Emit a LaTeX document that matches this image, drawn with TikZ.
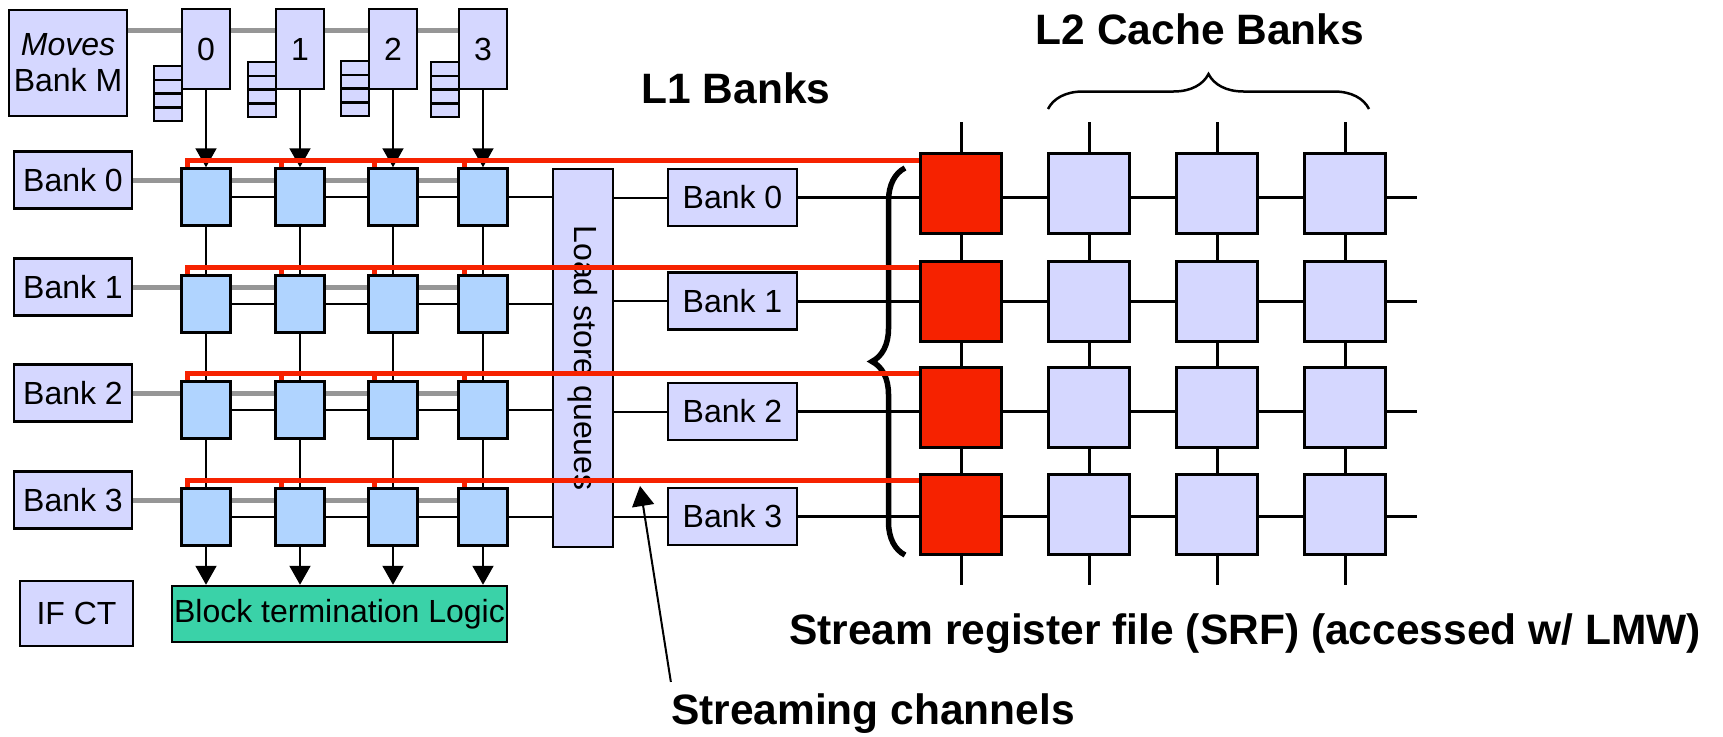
\documentclass[tikz,border=0pt]{standalone}
\usepackage{fontspec}
\setmainfont{Liberation Sans}
\usetikzlibrary{arrows.meta,backgrounds,decorations.pathreplacing}

\definecolor{lav}{RGB}{213,215,255}
\definecolor{peblue}{RGB}{176,212,255}
\definecolor{hotred}{RGB}{246,34,0}
\definecolor{tealbox}{RGB}{58,210,168}
\definecolor{busgray}{RGB}{150,150,150}
\newcommand{\boxfont}{\fontsize{32}{36}\selectfont}
\newcommand{\headfont}{\fontsize{42.5}{48}\selectfont\bfseries}

\begin{document}
\begin{tikzpicture}[
    x=1pt, y=-1pt,
    font=\boxfont,
    box/.style={draw, line width=2.5pt, fill=lav, inner sep=0pt, align=center},
    bank/.style={box, minimum width=118pt, minimum height=57pt},
    l1bank/.style={box, minimum width=129pt, minimum height=57pt},
    ifq/.style={box, minimum width=48pt, minimum height=80pt},
    cell/.style={box, minimum width=28pt, minimum height=13.75pt},
    pe/.style={box, fill=peblue, minimum width=49pt, minimum height=57pt},
    srf/.style={box, line width=3pt, minimum width=81pt, minimum height=80pt},
    srfhot/.style={srf, fill=hotred},
    heading/.style={font=\headfont, inner sep=0pt},
    wire/.style={line width=2pt},
    meshline/.style={line width=3pt},
    graybus/.style={line width=5pt, busgray},
    redbus/.style={line width=5.5pt, hotred},
    feed/.style={wire, -{Triangle[width=21pt, length=19pt]}},
    bigbrace/.style={decorate, decoration={brace, amplitude=33pt}, line width=5.5pt},
    smallbrace/.style={decorate, decoration={brace, amplitude=35pt}, line width=2.5pt}
  ]
    \useasboundingbox (0,0) rectangle (1723,736);

    % moves bank and operand queues
    \node[box, minimum width=118pt, minimum height=106pt] (moves) at (68,63) {\textit{Moves}\\Bank M};
    \foreach \x/\t [count=\j from 0] in {206/66,300/62,393/61,483/62} {
      \node[ifq] (q\j) at (\x,49) {\j};
      \foreach \k in {0,...,3}
        \node[cell] (s\j-\k) at (\x-38,\t+7+13.75*\k) {};
    }

    % register banks and execution array
    \foreach \y [count=\i from 0] in {197,304,410,517} {
      \node[bank] (bk\i) at (73,\y-17) {Bank \i};
      \foreach \x [count=\j from 0] in {206,300,393,483}
        \node[pe] (pe\i-\j) at (\x,\y) {};
    }
    \node[box, minimum width=60pt, minimum height=378pt, label={[rotate=-90]center:Load store queues}] (lsq) at (583,358) {};

    % L1 banks and SRF mesh
    \foreach \y/\ly [count=\i from 0] in {193.5/197.5,301/301,407/411.5,514/516.5} {
      \node[l1bank] (lb\i) at (732.5,\ly) {Bank \i};
      \node[srfhot] (srf\i-0) at (961,\y) {};
      \foreach \x [count=\j from 1] in {1089,1217,1345}
        \node[srf] (srf\i-\j) at (\x,\y) {};
    }

    \node[box, fill=tealbox, minimum width=335pt, minimum height=56pt] (btl) at (339.5,614) {Block termination Logic};
    \node[box, minimum width=113pt, minimum height=65pt] (ifct) at (76.5,613.5) {IF CT};

    \node[heading] (l1lab) at (736,88) {L1 Banks};
    \node[heading] (l2lab) at (1200,29) {L2 Cache Banks};
    \node[heading] (srflab) at (1245,634) {Stream register file (SRF) (accessed w/ LMW)};
    \node[heading] (chlab) at (873,714) {Streaming channels};

    \coordinate (mbus) at (459,30);
    \coordinate (meshE) at (1417,0);
    \coordinate (meshN) at (0,122);
    \coordinate (meshS) at (0,585);
    \coordinate (chtip) at (640,486);

    \begin{scope}[on background layer]
      \draw[graybus] (moves.east |- mbus) -- (mbus);
      \foreach \i in {0,...,3} {
        \draw[graybus] (bk\i.east) -- (bk\i.east -| pe\i-3.west);
        \draw[wire] (pe\i-0) -- (pe\i-0 -| lsq.west);
        \draw[wire] (lsq.east |- lb\i) -- (lb\i.west);
        \draw[meshline] (lb\i.east) -- (lb\i.east -| meshE);
        \draw[wire] (pe0-\i) -- (pe3-\i);
        \draw[meshline] (srf0-\i |- meshN) -- (srf0-\i |- meshS);
      }
    \end{scope}

    \foreach \j in {0,...,3} {
      \draw[feed] (q\j.south) -- (pe0-\j.north);
      \draw[feed] (pe3-\j.south) -- (pe3-\j.south |- btl.north);
    }

    \draw[bigbrace] (905,555) -- (905,168);
    \draw[smallbrace] (1048,109) -- (1369,109);

    % streaming channels
    \foreach \i in {0,...,3} {
      \draw[redbus] ([xshift=7pt]pe\i-0.north west) -- ++(0,-7) coordinate (rb\i) -- (rb\i -| srf\i-0.west);
      \foreach \j in {1,2,3}
        \draw[redbus] ([xshift=7pt]pe\i-\j.north west) -- ++(0,-7);
    }
    \draw[wire, -{Triangle[width=22pt, length=20pt]}] ([yshift=12pt]chlab.north west) -- (chtip);
  \end{tikzpicture}
\end{document}
